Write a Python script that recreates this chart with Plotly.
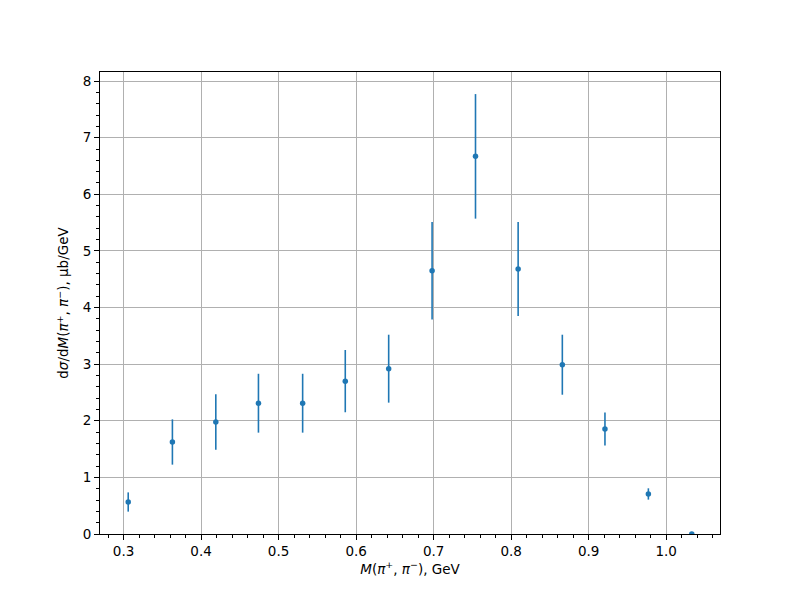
import plotly.graph_objects as go

mass = [0.306, 0.363, 0.419, 0.474, 0.531, 0.586, 0.642, 0.698, 0.754, 0.809, 0.866, 0.921, 0.977, 1.033]
xsec = [0.565, 1.625, 1.98, 2.31, 2.31, 2.70, 2.92, 4.65, 6.67, 4.68, 2.99, 1.855, 0.707, 0.0]
xsec_err = [0.17, 0.40, 0.49, 0.52, 0.52, 0.55, 0.60, 0.86, 1.10, 0.83, 0.53, 0.29, 0.10, 0.0]

x_title = "<i>M</i>(<i>π</i><sup>+</sup>, <i>π</i><sup>−</sup>), GeV"
y_title = "d<i>σ</i>/d<i>M</i>(<i>π</i><sup>+</sup>, <i>π</i><sup>−</sup>), μb/GeV"

color = "#1f77b4"

fig = go.Figure()
fig.add_trace(go.Scatter(
    x=mass, y=xsec, mode="markers",
    marker=dict(color=color, size=5.5),
    error_y=dict(type="data", array=xsec_err, visible=True, color=color, thickness=1.6, width=0),
    showlegend=False,
))

font = dict(family="DejaVu Sans", size=13.5, color="black")

fig.update_layout(
    width=800, height=600, autosize=False,
    margin=dict(l=92, r=88, t=64, b=74),
    paper_bgcolor="white", plot_bgcolor="white",
    font=font,
    xaxis=dict(
        range=[0.2696, 1.0694], dtick=0.1, tick0=0, tickformat=".1f",
        showline=True, mirror=True, linecolor="black", linewidth=1,
        ticks="outside", ticklen=5, tickwidth=1, tickcolor="black",
        showgrid=True, gridcolor="#b0b0b0", gridwidth=0.8, zeroline=False,
        minor=dict(dtick=0.02, tick0=0, ticks="outside", ticklen=3, tickwidth=0.8, tickcolor="black", showgrid=False),
        title=dict(text=x_title, font=font, standoff=6),
    ),
    yaxis=dict(
        range=[0, 8.16], dtick=1, tick0=0,
        showline=True, mirror=True, linecolor="black", linewidth=1,
        ticks="outside", ticklen=5, tickwidth=1, tickcolor="black",
        showgrid=True, gridcolor="#b0b0b0", gridwidth=0.8, zeroline=False,
        minor=dict(dtick=0.2, tick0=0, ticks="outside", ticklen=3, tickwidth=0.8, tickcolor="black", showgrid=False),
        title=dict(text=y_title, font=font, standoff=10),
    ),
)

fig.write_html("out.html")
